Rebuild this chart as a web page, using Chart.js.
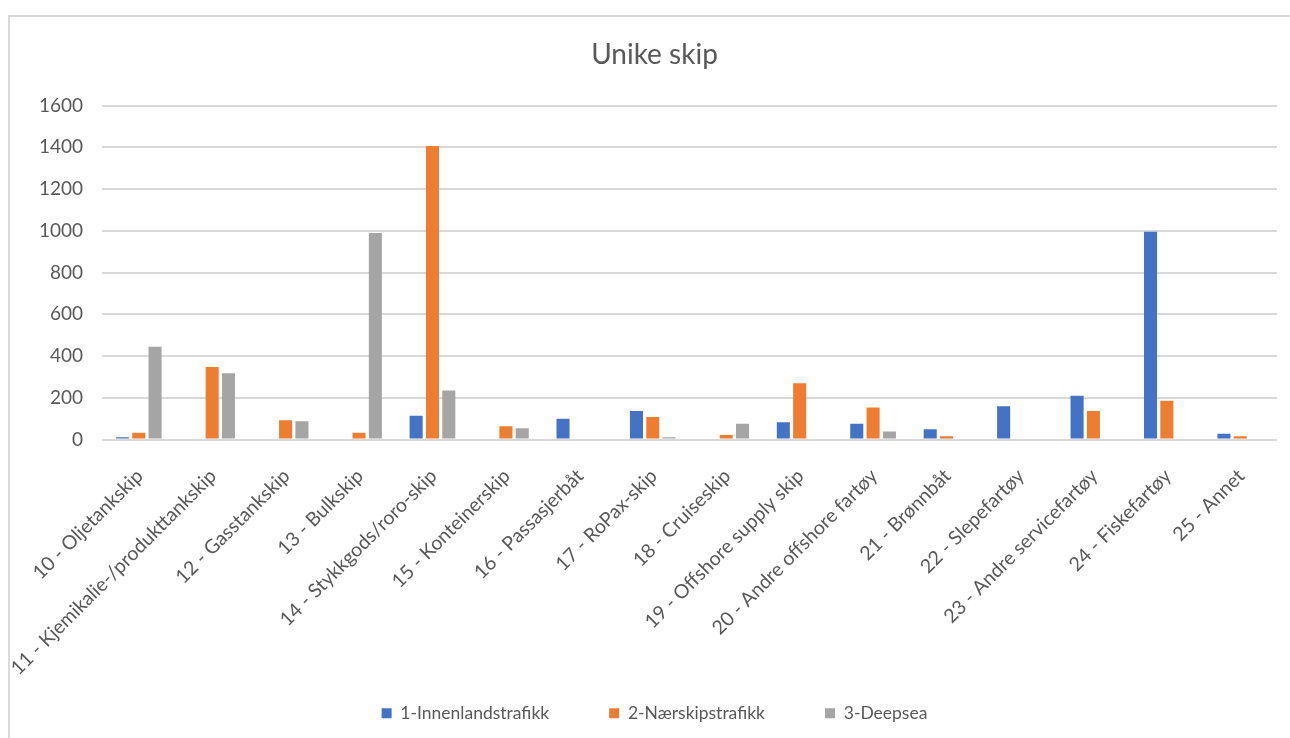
<!DOCTYPE html>
<html>
<head>
<meta charset="utf-8">
<title>Unike skip</title>
<script src="https://cdn.jsdelivr.net/npm/chart.js@4/dist/chart.umd.min.js"></script>
<style>
    html, body {
        margin: 0;
        padding: 0;
        background: #ffffff;
        overflow: hidden;
    }
    .frame {
        position: absolute;
        left: 8px;
        top: 15px;
        width: 1300px;
        height: 740px;
        border-left: 2px solid #D9D9D9;
        border-top: 2px solid #D9D9D9;
    }
    .chart-box {
        position: absolute;
        left: 0;
        top: 0;
        width: 1290px;
        height: 738px;
    }
</style>
</head>
<body>
<div class="frame"></div>
<div class="chart-box">
    <canvas id="shipChart" width="1290" height="738"></canvas>
</div>

<script>
// Data
const categories = [
    '10 - Oljetankskip',
    '11 - Kjemikalie-/produkttankskip',
    '12 - Gasstankskip',
    '13 - Bulkskip',
    '14 - Stykkgods/roro-skip',
    '15 - Konteinerskip',
    '16 - Passasjerbåt',
    '17 - RoPax-skip',
    '18 - Cruiseskip',
    '19 - Offshore supply skip',
    '20 - Andre offshore fartøy',
    '21 - Brønnbåt',
    '22 - Slepefartøy',
    '23 - Andre servicefartøy',
    '24 - Fiskefartøy',
    '25 - Annet'
];

const innenland = [11, 0, 0, 0, 114, 0, 99, 137, 0, 83, 76, 49, 159, 210, 995, 27];
const naerskip = [32, 347, 92, 32, 1407, 64, 0, 108, 21, 269, 153, 16, 0, 137, 186, 16];
const deepsea = [445, 318, 87, 989, 235, 54, 0, 11, 76, 0, 38, 0, 0, 0, 0, 0];

const seriesNames = ['1-Innenlandstrafikk', '2-Nærskipstrafikk', '3-Deepsea'];
const yTicks = [0, 200, 400, 600, 800, 1000, 1200, 1400, 1600];

const textColor = '#595959';
const gridColor = '#D9D9D9';

document.addEventListener('DOMContentLoaded', function () {
    initShipChart();
});

function makeDataset(label, data, color) {
    return {
        label: label,
        data: data,
        backgroundColor: color,
        borderWidth: 0,
        categoryPercentage: 0.667,
        barPercentage: 0.8
    };
}

function initShipChart() {
    const ctx = document.getElementById('shipChart');
    if (!ctx) return;

    new Chart(ctx, {
        type: 'bar',
        data: {
            labels: categories,
            datasets: [
                makeDataset(seriesNames[0], innenland, '#4472C4'),
                makeDataset(seriesNames[1], naerskip, '#ED7D31'),
                makeDataset(seriesNames[2], deepsea, '#A5A5A5')
            ]
        },
        options: {
            responsive: false,
            animation: false,
            layout: {
                padding: { left: 32, right: 13, top: 0, bottom: 6 }
            },
            plugins: {
                title: {
                    display: true,
                    text: 'Unike skip',
                    color: textColor,
                    font: { family: 'Lato', size: 28, weight: 'normal' },
                    padding: { top: 38, bottom: 34 }
                },
                legend: {
                    position: 'bottom',
                    labels: {
                        color: textColor,
                        font: { family: 'Lato', size: 17.5 },
                        boxWidth: 10,
                        boxHeight: 10,
                        padding: 60
                    }
                },
                tooltip: { enabled: false }
            },
            scales: {
                x: {
                    grid: { display: false },
                    border: { display: false },
                    ticks: {
                        color: textColor,
                        font: { family: 'Lato', size: 19.5 },
                        minRotation: 45,
                        maxRotation: 45,
                        autoSkip: false,
                        padding: 17,
                        labelOffset: 1
                    },
                    afterFit: function (scale) {
                        scale.height = 205;
                        // long rotated labels run into the legend band, like in the original
                        scale._computeLabelArea = function () {
                            return { top: scale.top, left: 9, bottom: scale.chart.height, right: scale.chart.width };
                        };
                    }
                },
                y: {
                    min: 0,
                    max: yTicks[yTicks.length - 1],
                    grid: {
                        color: gridColor,
                        lineWidth: 2,
                        drawTicks: false
                    },
                    border: { display: false },
                    afterBuildTicks: function (scale) {
                        scale.ticks = yTicks.map(v => ({ value: v }));
                    },
                    ticks: {
                        color: textColor,
                        font: { family: 'Lato', size: 19 },
                        padding: 19,
                        callback: function (value) {
                            return String(value);
                        }
                    },
                    afterFit: function (scale) {
                        scale.width = 70;
                    }
                }
            }
        }
    });
}
</script>
</body>
</html>
